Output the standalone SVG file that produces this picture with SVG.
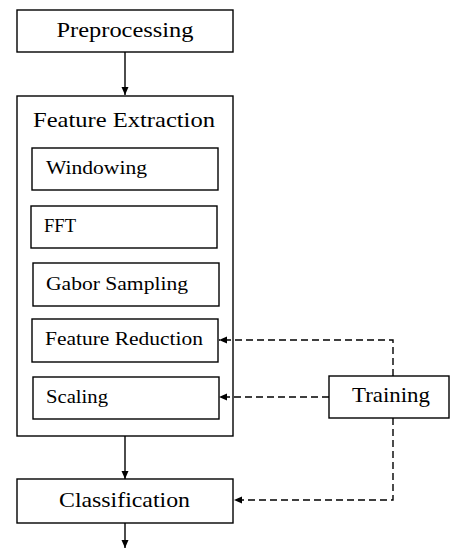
<svg xmlns="http://www.w3.org/2000/svg" width="450" height="548" viewBox="0 0 450 548">
<style>
.box{fill:#fff;stroke:#000;stroke-width:1.4}
.big{font-family:"Liberation Serif","Times New Roman",serif;font-size:22px;fill:#000}
.small{font-family:"Liberation Serif","Times New Roman",serif;font-size:18px;fill:#000}
.line{fill:none;stroke:#000;stroke-width:1.4}
.dash{fill:none;stroke:#000;stroke-width:1.4;stroke-dasharray:7,4}
</style>
<defs>
<marker id="ah" markerUnits="userSpaceOnUse" markerWidth="10" markerHeight="10" viewBox="0 0 10 10" refX="9" refY="5" orient="auto">
<path d="M1,1.5 L9,5 L1,8.5 Z" fill="#000"/>
</marker>
</defs>
<g id="preprocessing">
<rect class="box" x="17" y="10" width="216" height="42"/>
<text class="big" x="125" y="37" text-anchor="middle" textLength="137" lengthAdjust="spacingAndGlyphs">Preprocessing</text>
</g>
<g id="feature-extraction">
<rect class="box" x="17" y="96" width="216" height="340"/>
<text class="big" x="33" y="127" textLength="182" lengthAdjust="spacingAndGlyphs">Feature Extraction</text>
</g>
<g id="windowing">
<rect class="box" x="32" y="148" width="186" height="42"/>
<text class="small" x="46" y="174" textLength="101" lengthAdjust="spacingAndGlyphs">Windowing</text>
</g>
<g id="fft">
<rect class="box" x="31" y="206" width="186" height="42"/>
<text class="small" x="44" y="232" textLength="32" lengthAdjust="spacingAndGlyphs">FFT</text>
</g>
<g id="gabor-sampling">
<rect class="box" x="33" y="263" width="186" height="43"/>
<text class="small" x="46" y="290" textLength="142" lengthAdjust="spacingAndGlyphs">Gabor Sampling</text>
</g>
<g id="feature-reduction">
<rect class="box" x="32" y="319" width="186" height="43"/>
<text class="small" x="45" y="345" textLength="158" lengthAdjust="spacingAndGlyphs">Feature Reduction</text>
</g>
<g id="scaling">
<rect class="box" x="33" y="377" width="186" height="42"/>
<text class="small" x="46" y="403" textLength="62" lengthAdjust="spacingAndGlyphs">Scaling</text>
</g>
<g id="training">
<rect class="box" x="329" y="376" width="120" height="42"/>
<text class="big" x="352" y="402" textLength="78" lengthAdjust="spacingAndGlyphs">Training</text>
</g>
<g id="classification">
<rect class="box" x="17" y="479" width="216" height="44"/>
<text class="big" x="59" y="507" textLength="131" lengthAdjust="spacingAndGlyphs">Classification</text>
</g>
<g id="connectors">
<line class="line" x1="125" y1="52" x2="125" y2="95" marker-end="url(#ah)"/>
<line class="line" x1="125" y1="436" x2="125" y2="479" marker-end="url(#ah)"/>
<line class="line" x1="125" y1="523" x2="125" y2="548" marker-end="url(#ah)"/>
<polyline class="dash" points="393,376 393,340 219,340" marker-end="url(#ah)"/>
<line class="dash" x1="329" y1="397" x2="219" y2="397" marker-end="url(#ah)"/>
<polyline class="dash" points="393,418 393,500 234,500" marker-end="url(#ah)"/>
</g>
</svg>
